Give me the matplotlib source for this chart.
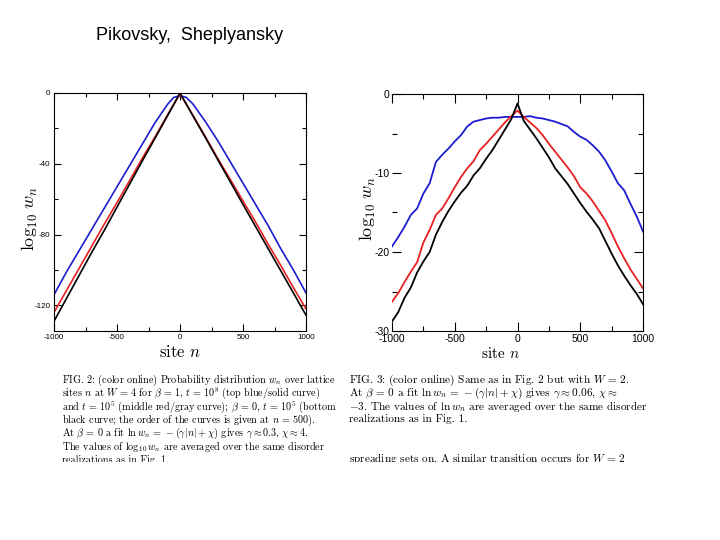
import numpy as np
import matplotlib
matplotlib.use("Agg")
import matplotlib.pyplot as plt
from matplotlib.patches import Rectangle
from matplotlib.ticker import MultipleLocator

plt.rcParams['mathtext.fontset'] = 'cm'

# Fig. 2 (W = 4): log10 w_n
n_left = [-1000, -900, -800, -700, -600, -500, -400, -300, -200, -100, -50, 0,
          50, 100, 200, 300, 400, 500, 600, 700, 800, 900, 1000]
blue_left = [-114, -101, -89, -77, -65, -53, -41, -29, -17, -6.5, -2.5, -1.5,
             -2.5, -6, -16, -27, -39, -51, -63, -75, -88, -100, -113]
red_left = [-124, -111.5, -99, -86.5, -74, -62, -49.5, -37, -25, -12.5, -6.5, -0.5,
            -6.3, -12.3, -24.5, -37, -49, -61, -73, -85.5, -97.5, -110, -122]
black_left = [-129, -116, -103, -90, -77.5, -64.5, -51.5, -38.5, -25.8, -13, -6.5, 0,
              -6.3, -12.6, -25, -37.7, -50.3, -63, -75.5, -88, -100.5, -113, -125.6]

# Fig. 3 (W = 2)
n_right = list(range(-1000, 1001, 50))
blue_right = [-19.3, -18.1, -16.8, -15.3, -14.5, -12.6, -11.3, -8.6, -7.7, -6.9, -6.0,
              -5.2, -4.1, -3.5, -3.3, -3.1, -3.0, -3.0, -2.9, -2.9, -2.9, -2.9, -2.8,
              -3.0, -3.1, -3.3, -3.5, -3.8, -4.1, -4.8, -5.4, -5.8, -6.5, -7.3, -8.4,
              -9.8, -11.3, -12.2, -13.9, -15.5, -17.4]
red_right = [-26.3, -25.2, -23.8, -22.5, -21.3, -18.8, -17.2, -15.3, -14.5, -13.2, -11.8,
             -10.5, -9.4, -8.5, -7.1, -6.3, -5.4, -4.5, -3.6, -2.8, -2.1, -2.9, -3.6,
             -4.3, -5.2, -6.3, -7.3, -8.3, -9.3, -10.4, -11.8, -12.6, -13.6, -14.8, -16.0,
             -17.6, -19.3, -20.8, -22.2, -23.4, -24.6]
black_right = [-28.8, -27.6, -25.8, -24.5, -22.6, -21.2, -20.0, -17.8, -16.2, -14.8, -13.6,
               -12.5, -11.6, -10.3, -9.4, -8.2, -7.1, -5.8, -4.5, -3.2, -1.2, -3.4, -4.5,
               -5.6, -6.8, -8.0, -9.4, -10.4, -11.4, -12.6, -13.8, -14.9, -15.9, -17.0, -18.6,
               -20.2, -21.7, -23.0, -24.2, -25.3, -26.6]

x_ticks = [-1000, -500, 0, 500, 1000]
x_labels = ['-1000', '-500', '0', '500', '1000']
y_ticks_left = [0, -40, -80, -120]
y_ticks_right = [0, -10, -20, -30]

caption_left = [
    r"FIG. 2: (color online) Probability distribution $w_n$ over lattice",
    r"sites $n$ at $W\,=\,4$ for $\beta\,=\,1$, $t\,=\,10^8$ (top blue/solid curve)",
    r"and $t\,=\,10^5$ (middle red/gray curve); $\beta\,=\,0$, $t\,=\,10^5$ (bottom",
    r"black curve; the order of the curves is given at $n\,=\,500$).",
    r"At $\beta\,=\,0$ a fit $\ln w_n\,=\,-(\gamma|n|+\chi)$ gives $\gamma\approx 0.3$, $\chi\approx 4$.",
    r"The values of $\log_{10} w_n$ are averaged over the same disorder",
    r"realizations as in Fig. 1.",
]
caption_right = [
    r"FIG. 3: (color online) Same as in Fig. 2 but with $W\,=\,2$.",
    r"At $\beta\,=\,0$ a fit $\ln w_n\,=\,-(\gamma|n|+\chi)$ gives $\gamma\approx 0.06$, $\chi\approx$",
    r"$-3$. The values of $\ln w_n$ are averaged over the same disorder",
    r"realizations as in Fig. 1.",
    "",
    "",
    r"spreading sets on. A similar transition occurs for $W\,=\,2$",
]

blue = '#1c1cd0'
red = '#e82020'

fig = plt.figure(figsize=(7.2, 5.4), dpi=100)

def px(x0, y0, x1, y1):
    return [x0 / 720, 1 - y1 / 540, (x1 - x0) / 720, (y1 - y0) / 540]

# left panel
ax1 = fig.add_axes(px(54, 93, 306, 331))
ax1.plot(n_left, blue_left, color=blue, lw=1.2)
ax1.plot(n_left, red_left, color=red, lw=1.2)
ax1.plot(n_left, black_left, color='black', lw=1.2)
ax1.set_xlim(-1000, 1000)
ax1.set_ylim(-134.5, 0)
ax1.set_xticks(x_ticks)
ax1.set_xticklabels(x_labels)
ax1.set_yticks(y_ticks_left)
ax1.set_yticklabels([str(v) for v in y_ticks_left])
ax1.xaxis.set_minor_locator(MultipleLocator(250))
ax1.yaxis.set_minor_locator(MultipleLocator(20))
ax1.tick_params(which='both', direction='in', top=True, right=True, labelsize=5.8, pad=2.5)
ax1.tick_params(which='major', length=5, width=0.8)
ax1.tick_params(which='minor', length=3, width=0.8)
for lab in ax1.get_xticklabels() + ax1.get_yticklabels():
    lab.set_family('Liberation Sans')

# right panel
ax2 = fig.add_axes(px(392, 94, 643, 331))
ax2.plot(n_right, blue_right, color=blue, lw=1.3)
ax2.plot(n_right, red_right, color=red, lw=1.3)
ax2.plot(n_right, black_right, color='black', lw=1.3)
ax2.set_xlim(-1000, 1000)
ax2.set_ylim(-30, 0)
ax2.spines['left'].set_visible(False)
ax2.set_xticks(x_ticks)
ax2.set_xticklabels(x_labels)
ax2.set_yticks(y_ticks_right)
ax2.set_yticklabels([str(v) for v in y_ticks_right])
ax2.xaxis.set_minor_locator(MultipleLocator(250))
ax2.yaxis.set_minor_locator(MultipleLocator(5))
ax2.tick_params(which='both', direction='in', top=True, right=True, labelsize=7.5, pad=2)
ax2.tick_params(which='major', length=6.5, width=0.8)
ax2.tick_params(which='minor', length=3.5, width=0.8)
for lab in ax2.get_xticklabels() + ax2.get_yticklabels():
    lab.set_family('Liberation Sans')

# axis labels
fig.text(180 / 720, 1 - 352 / 540, r"site $n$", family='cmr10', fontsize=12, ha='center', va='center')
fig.text(30 / 720, 1 - 218 / 540, r"$\log_{10}\,w_n$", fontsize=13, rotation=90, ha='center', va='center')
fig.text(500 / 720, 1 - 354 / 540, r"site $n$", family='cmr10', fontsize=11, ha='center', va='center')
fig.text(368 / 720, 1 - 208 / 540, r"$\log_{10}\,w_n$", fontsize=13, rotation=90, ha='center', va='center')

# title
fig.text(96 / 720, 1 - 36 / 540, "Pikovsky,  Sheplyansky", family='Liberation Sans', fontsize=13,
         ha='left', va='center')

# captions
for i, line in enumerate(caption_left):
    fig.text(62 / 720, 1 - (380 + 13.4 * i) / 540, line, family='cmr10', fontsize=7.3,
             ha='left', va='center')
for i, line in enumerate(caption_right):
    if line:
        fig.text(349 / 720, 1 - (380 + 13.0 * i) / 540, line, family='cmr10', fontsize=8.1,
                 ha='left', va='center')

# the scan is cut off just below the captions
fig.patches.append(Rectangle((0, 0), 1, 1 - 462 / 540, transform=fig.transFigure,
                             facecolor='white', edgecolor='none', zorder=10))

fig.savefig('out.png', dpi=100)
